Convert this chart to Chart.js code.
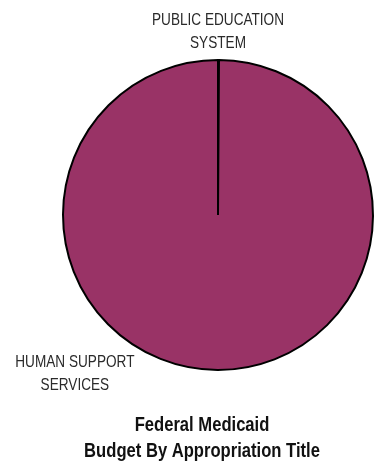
<!DOCTYPE html>
<html>
<head>
<meta charset="utf-8">
<script src="https://cdn.jsdelivr.net/npm/chart.js@4/dist/chart.umd.min.js"></script>
<style>
  html, body { margin: 0; padding: 0; background: #ffffff; }
  #wrap { width: 375px; height: 463px; position: relative; }
</style>
</head>
<body>
<div id="wrap"><canvas id="pie" width="375" height="463"></canvas></div>
<script>
// Appropriation titles and their share of the federal Medicaid budget
const categories = ['PUBLIC EDUCATION SYSTEM', 'HUMAN SUPPORT SERVICES'];
const labelLines = [['PUBLIC EDUCATION', 'SYSTEM'], ['HUMAN SUPPORT', 'SERVICES']];
const shares = [0.1, 99.9];
const titleLines = ['Federal Medicaid', 'Budget By Appropriation Title'];

const FONT = '"Liberation Sans", Arial, sans-serif';
const NARROW = 0.8;   // horizontal squeeze for a condensed look

// Slice labels sit outside the pie at fixed directions from its centre
const labelSpots = [
  { angle: -90, dist: 1.18, lineGap: 23 },
  { angle: 132, dist: 1.38, lineGap: 23 }
];

function narrowText(ctx, text, x, y, squeeze) {
  ctx.save();
  ctx.translate(x, y);
  ctx.scale(squeeze, 1);
  ctx.fillText(text, 0, 0);
  ctx.restore();
}

const outsideText = {
  id: 'outsideText',
  afterDraw(chart) {
    const ctx = chart.ctx;
    const arc = chart.getDatasetMeta(0).data[0];
    const cx = arc.x, cy = arc.y, r = arc.outerRadius;
    ctx.save();
    ctx.textAlign = 'center';
    ctx.textBaseline = 'middle';
    ctx.fillStyle = '#2a2a2a';
    ctx.font = '17px ' + FONT;
    labelLines.forEach((lines, i) => {
      const s = labelSpots[i];
      const a = s.angle * Math.PI / 180;
      const x = cx + Math.cos(a) * r * s.dist;
      const y = cy + Math.sin(a) * r * s.dist;
      const y0 = y - (lines.length - 1) * s.lineGap / 2;
      lines.forEach((t, k) => narrowText(ctx, t, x, y0 + k * s.lineGap, NARROW));
    });
    ctx.fillStyle = '#111111';
    ctx.font = 'bold 20px ' + FONT;
    titleLines.forEach((t, k) => narrowText(ctx, t, 202, 425 + k * 26, 0.83));
    ctx.restore();
  }
};

new Chart(document.getElementById('pie'), {
  type: 'pie',
  data: {
    labels: categories,
    datasets: [{
      data: shares,
      backgroundColor: ['#993366', '#993366'],
      borderColor: '#000000',
      borderWidth: 2,
      borderAlign: 'center'
    }]
  },
  options: {
    responsive: false,
    animation: false,
    layout: { padding: { left: 62, right: 1, top: 59, bottom: 92 } },
    plugins: {
      legend: { display: false },
      title: { display: false },
      tooltip: { enabled: false }
    }
  },
  plugins: [outsideText]
});
</script>
</body>
</html>
